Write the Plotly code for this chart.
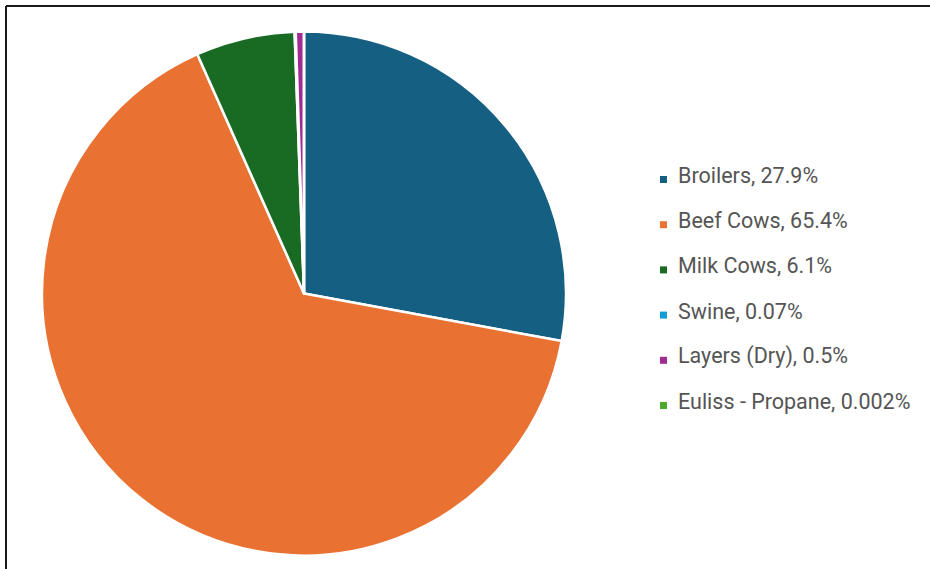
import plotly.graph_objects as go

# Share of total by source (percent)
labels = ["Broilers", "Beef Cows", "Milk Cows", "Swine", "Layers (Dry)", "Euliss - Propane"]
shares = [27.9, 65.4, 6.1, 0.07, 0.5, 0.002]
colors = ["#156082", "#E97132", "#196B24", "#0F9ED5", "#A02B93", "#4EA72E"]

W, H = 930, 569


def px(x):
    return x / W


def py(y):
    return 1 - y / H


fig = go.Figure(
    go.Pie(
        labels=labels,
        values=shares,
        sort=False,
        direction="clockwise",
        rotation=0,
        textinfo="none",
        marker=dict(colors=colors, line=dict(color="white", width=2.5)),
        domain=dict(x=[px(42), px(566)], y=[py(556), py(31)]),
        showlegend=False,
    )
)

shapes = [
    # frame around the chart area
    dict(type="line", xref="paper", yref="paper", x0=px(6), y0=py(6), x1=px(W + 5), y1=py(6),
         line=dict(color="#1a1a1a", width=2)),
    dict(type="line", xref="paper", yref="paper", x0=px(6), y0=py(6), x1=px(6), y1=py(H + 5),
         line=dict(color="#1a1a1a", width=2)),
]
annotations = []

# Legend entries: small colour square plus "label, value%"
row0, gap = 175.5, 45.2
for i, (lab, val, col) in enumerate(zip(labels, shares, colors)):
    yc = row0 + gap * i
    shapes.append(dict(type="rect", xref="paper", yref="paper",
                       x0=px(660), x1=px(667), y0=py(yc + 7.5), y1=py(yc + 0.5),
                       fillcolor=col, line=dict(width=0)))
    annotations.append(dict(xref="paper", yref="paper", x=px(676), y=py(yc),
                            xanchor="left", yanchor="middle", showarrow=False,
                            text=f"{lab}, {val:g}%",
                            font=dict(family="Roboto", size=21.5, color="#555555")))

fig.update_layout(
    width=W, height=H,
    margin=dict(l=0, r=0, t=0, b=0, pad=0),
    paper_bgcolor="white",
    plot_bgcolor="white",
    shapes=shapes,
    annotations=annotations,
)

fig.write_html("out.html")
